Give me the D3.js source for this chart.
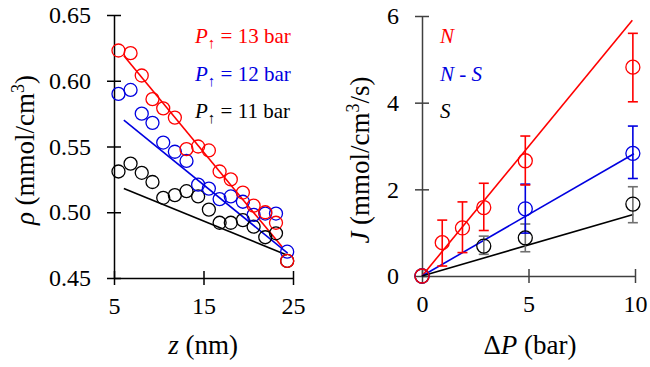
<!DOCTYPE html>
<html>
<head>
<script src="https://d3js.org/d3.v7.min.js"></script>
</head>
<body style="margin:0">
<script>
// ---- left panel: density profiles ----
const zVals = [5.5, 6.85, 8.1, 9.3, 10.5, 11.8, 13.1, 14.4, 15.6, 16.8, 18.05, 19.4, 20.6, 21.9, 23.1, 24.35];
const rho13 = [0.623, 0.621, 0.604, 0.586, 0.579, 0.572, 0.548, 0.550, 0.547, 0.531, 0.525, 0.515, 0.505, 0.500, 0.492, 0.463];
const rho12 = [0.590, 0.593, 0.575, 0.568, 0.553, 0.546, 0.539, 0.521, 0.518, 0.510, 0.512, 0.508, 0.498, 0.499, 0.499, 0.470];
const rho11 = [0.531, 0.537, 0.530, 0.523, 0.511, 0.513, 0.516, 0.512, 0.502, 0.492, 0.492, 0.494, 0.489, 0.481, 0.484, 0.463];
// fit lines: [z, rho] end points
const fit13 = [[6.1, 0.619], [23.8, 0.4735]];
const fit12 = [[6.1, 0.570], [24.4, 0.469]];
const fit11 = [[6.1, 0.518], [24.3, 0.4675]];
const rhoTicks = [0.45, 0.50, 0.55, 0.60, 0.65];
const zTicks = [5, 15, 25];
const leftLegend = ["13", "12", "11"];

// ---- right panel: flux vs pressure drop ----
const dP = [0, 0.95, 1.9, 2.9, 4.85, 9.9];
const jN = [0, 0.77, 1.11, 1.58, 2.66, 4.82];
const jNlo = [null, 0.23, 0.54, 1.05, 2.10, 4.02];
const jNhi = [null, 1.29, 1.71, 2.14, 3.23, 5.60];
const dPns = [0, 4.85, 9.9];
const jNS = [0, 1.55, 2.83];
const jNSlo = [null, 0.99, 2.25];
const jNShi = [null, 2.12, 3.46];
const dPs = [0, 2.9, 4.85, 9.9];
const jS = [0, 0.69, 0.88, 1.66];
const jSlo = [null, 0.50, 0.56, 1.23];
const jShi = [null, 0.92, 1.20, 2.06];
const fitN = [[0, 0], [9.875, 5.9]];
const fitNS = [[0, 0], [9.95, 2.82]];
const fitS = [[0, 0], [9.92, 1.42]];
const jTicks = [0, 2, 4, 6];
const pTicks = [0, 5, 10];
const rightLegend = ["N", "N - S", "S"];

const colors = ["#ff0000", "#0000e0", "#000000"];
const FONT = '"Liberation Serif"';

const svg = d3.select("body").append("svg")
    .attr("width", 650).attr("height", 367);

// font set inline and marked important so nothing overrides it
function serifify(sel, size) {
  sel.style("font-family", FONT, "important");
  if (size) sel.style("font-size", size + "px", "important");
  return sel;
}
function txt(x, y, size) {
  return serifify(svg.append("text").attr("x", x).attr("y", y), size);
}

function drawAxes(x, y, xt, yt, xfmt, yfmt, col) {
  const ax = d3.axisBottom(x).tickValues(xt).tickFormat(xfmt)
      .tickSizeInner(7).tickSizeOuter(0).tickPadding(12);
  const gx = svg.append("g").attr("transform", `translate(0,${y.range()[0]})`).call(ax);
  gx.selectAll(".tick line").attr("y1", -7);
  const ay = d3.axisLeft(y).tickValues(yt).tickFormat(yfmt)
      .tickSizeInner(7).tickSizeOuter(0).tickPadding(16);
  const gy = svg.append("g").attr("transform", `translate(${x.range()[0]},0)`).call(ay);
  gy.selectAll(".tick line").attr("x1", 7);
  [gx, gy].forEach(g => {
    g.attr("font-family", null).attr("font-size", null);
    g.select(".domain").attr("stroke", col).attr("stroke-width", 1.5);
    g.selectAll(".tick line").attr("stroke", col).attr("stroke-width", 1.5);
    serifify(g.selectAll(".tick text").attr("fill", "#000"), 24);
  });
}

// ---- left panel ----
const x1 = d3.scaleLinear().domain([5, 25]).range([114, 293]);
const y1 = d3.scaleLinear().domain([0.45, 0.65]).range([278, 15]);
drawAxes(x1, y1, zTicks, rhoTicks, d3.format("d"), d3.format(".2f"), "#000");

const line1 = d3.line().x(d => x1(d[0])).y(d => y1(d[1]));
[fit13, fit12, fit11].forEach((f, i) => {
  svg.append("path").attr("d", line1(f)).attr("fill", "none")
    .attr("stroke", colors[i]).attr("stroke-width", 1.6);
});
[rho11, rho12, rho13].forEach((s, k) => {
  const i = 2 - k;
  svg.append("g").selectAll("circle").data(s).join("circle")
    .attr("cx", (d, j) => x1(zVals[j])).attr("cy", d => y1(d))
    .attr("r", 6.5).attr("fill", "none")
    .attr("stroke", colors[i]).attr("stroke-width", 1.3);
});
leftLegend.forEach((p, i) => {
  const t = txt(195, 43 + i * 37.5, 21).attr("fill", colors[i]);
  t.append("tspan").attr("font-style", "italic").text("P");
  serifify(t.append("tspan").attr("dy", 5), 15).text("\u2191");
  serifify(t.append("tspan").attr("dy", -5), 21).text(" = " + p + " bar");
});
const xl = txt(203, 354, 27).attr("text-anchor", "middle");
xl.append("tspan").attr("font-style", "italic").text("z");
xl.append("tspan").text(" (nm)");
const yl = txt(0, 0, 27).attr("transform", "translate(34,150) rotate(-90)")
  .attr("text-anchor", "middle");
yl.append("tspan").attr("font-style", "italic").text("\u03c1");
yl.append("tspan").text(" (mmol/cm");
serifify(yl.append("tspan").attr("dy", -10), 18).text("3");
serifify(yl.append("tspan").attr("dy", 10), 27).text(")");

// ---- right panel ----
const x2 = d3.scaleLinear().domain([0, 10]).range([422, 635]);
const y2 = d3.scaleLinear().domain([0, 6]).range([276, 16]);
drawAxes(x2, y2, pTicks, jTicks, d3.format("d"), d3.format("d"), "#404040");

const line2 = d3.line().x(d => x2(d[0])).y(d => y2(d[1]));
[fitN, fitNS, fitS].forEach((f, i) => {
  svg.append("path").attr("d", line2(f)).attr("fill", "none")
    .attr("stroke", colors[i]).attr("stroke-width", 1.6);
});
const sets = [
  {x: dPs, y: jS, lo: jSlo, hi: jShi, c: "#000", e: "#707070"},
  {x: dPns, y: jNS, lo: jNSlo, hi: jNShi, c: colors[1], e: colors[1]},
  {x: dP, y: jN, lo: jNlo, hi: jNhi, c: colors[0], e: colors[0]}
];
sets.forEach(s => {
  const g = svg.append("g");
  s.x.forEach((xv, j) => {
    if (s.lo[j] == null) return;
    const cx = x2(xv);
    g.append("line").attr("x1", cx).attr("x2", cx)
      .attr("y1", y2(s.lo[j])).attr("y2", y2(s.hi[j]))
      .attr("stroke", s.e).attr("stroke-width", 1.6);
    [s.lo[j], s.hi[j]].forEach(v => {
      g.append("line").attr("x1", cx - 5).attr("x2", cx + 5)
        .attr("y1", y2(v)).attr("y2", y2(v))
        .attr("stroke", s.e).attr("stroke-width", 1.6);
    });
  });
});
sets.forEach(s => {
  svg.append("g").selectAll("circle").data(s.y).join("circle")
    .attr("cx", (d, j) => x2(s.x[j])).attr("cy", d => y2(d))
    .attr("r", 7).attr("fill", "none")
    .attr("stroke", s.c).attr("stroke-width", 1.3);
});
rightLegend.forEach((n, i) => {
  const t = txt(440, 43 + i * 37.5, 21).attr("fill", colors[i]);
  if (n === "N - S") {
    t.append("tspan").attr("font-style", "italic").text("N");
    t.append("tspan").text(" - ");
    t.append("tspan").attr("font-style", "italic").text("S");
  } else {
    t.attr("font-style", "italic").text(n);
  }
});
const xl2 = txt(530, 354, 27).attr("text-anchor", "middle");
xl2.append("tspan").text("\u0394");
xl2.append("tspan").attr("font-style", "italic").text("P");
xl2.append("tspan").text(" (bar)");
const yl2 = txt(0, 0, 27).attr("transform", "translate(369,160) rotate(-90)")
  .attr("text-anchor", "middle");
yl2.append("tspan").attr("font-style", "italic").text("J");
yl2.append("tspan").text(" (mmol/cm");
serifify(yl2.append("tspan").attr("dy", -10), 18).text("3");
serifify(yl2.append("tspan").attr("dy", 10), 27).text("/s)");
</script>
</body>
</html>
